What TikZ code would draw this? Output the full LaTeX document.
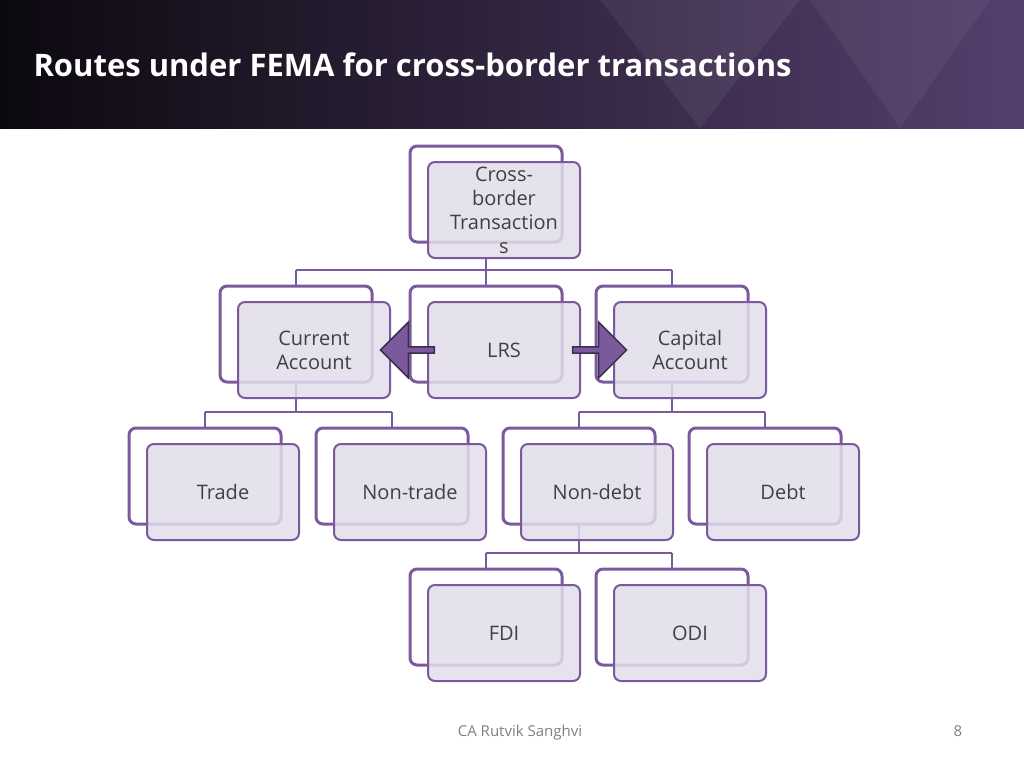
\documentclass[tikz,border=0pt]{standalone}
\usepackage{fontspec}
\setmainfont{Open Sans}
\usetikzlibrary{shapes.arrows}
\definecolor{pb}{HTML}{7A5A9C}
\definecolor{pf}{HTML}{E2DDEB}
\definecolor{tx}{HTML}{404040}
\tikzset{
 back/.style={draw=pb,line width=3pt,fill=white,rounded corners=7pt,minimum width=152pt,minimum height=96pt,inner sep=0},
 front/.style={draw=pb,line width=2pt,fill=pf,fill opacity=0.85,text opacity=1,rounded corners=7pt,minimum width=152pt,minimum height=96pt,text width=140pt,align=center,font=\fontsize{20}{24}\selectfont,text=tx,inner sep=0},
 conn/.style={draw=pb,line width=1.6pt},
 blk/.style={single arrow,draw=pb!50!black,line width=1.5pt,fill=pb,minimum height=54pt,minimum width=56pt,single arrow head extend=6pt,inner sep=0,text width=10pt}
}
\newcommand{\pairbox}[4]{\node[back] (#1b) at (#2-18,#3-16) {};}
\newcommand{\pairfront}[4]{\node[front] (#1) at (#2,#3) {#4};}
\begin{document}
\begin{tikzpicture}[x=1pt,y=-1pt]
\useasboundingbox (0,0) rectangle (1024,768);
\shade[left color=black!90!pb,right color=pb!70!black,shading angle=90] (0,0) rectangle (1024,128);
\fill[white,opacity=0.06] (600,0) -- (700,128) -- (800,0) -- cycle;
\fill[white,opacity=0.05] (810,0) -- (900,128) -- (990,0) -- cycle;
\node[anchor=west,text=white,font=\fontsize{31}{36}\selectfont\bfseries] (title) at (30,65) {Routes under FEMA for cross-border transactions};
\foreach \n/\x/\y/\t in {cb/504/210/{Cross-\\border\\Transaction\\s},ca/314/350/{Current\\Account},lrs/504/350/{LRS},cap/690/350/{Capital\\Account},tr/223/492/{Trade},nt/410/492/{Non-trade},nd/597/492/{Non-debt},db/783/492/{Debt},fdi/504/633/{FDI},odi/690/633/{ODI}}{\pairbox{\n}{\x}{\y}{\t}}
% connectors
\coordinate (cbbot) at (486,258);
\coordinate (j1) at (504,270);
\draw[conn] (cbbot) -- (cbbot|-j1) (cab.north|-j1) -- (capb.north|-j1);
\draw[conn] (cab.north|-j1) -- (cab.north) (lrsb.north|-j1) -- (lrsb.north) (capb.north|-j1) -- (capb.north);
\coordinate (j2) at (300,412);
\draw[conn] (cab.south) -- (cab.south|-j2) (trb.north|-j2) -- (ntb.north|-j2) (trb.north|-j2) -- (trb.north) (ntb.north|-j2) -- (ntb.north);
\draw[conn] (capb.south) -- (capb.south|-j2) (ndb.north|-j2) -- (dbb.north|-j2) (ndb.north|-j2) -- (ndb.north) (dbb.north|-j2) -- (dbb.north);
\coordinate (j3) at (500,553);
\draw[conn] (ndb.south) -- (ndb.south|-j3) (fdib.north|-j3) -- (odib.north|-j3) (fdib.north|-j3) -- (fdib.north) (odib.north|-j3) -- (odib.north);
\foreach \n/\x/\y/\t in {cb/504/210/{Cross-\\border\\Transaction\\s},ca/314/350/{Current\\Account},lrs/504/350/{LRS},cap/690/350/{Capital\\Account},tr/223/492/{Trade},nt/410/492/{Non-trade},nd/597/492/{Non-debt},db/783/492/{Debt},fdi/504/633/{FDI},odi/690/633/{ODI}}{\pairfront{\n}{\x}{\y}{\t}}
\node[blk,shape border rotate=180] (al) at (409,350) {};
\node[blk] (ar) at (598,350) {};
\node[font=\fontsize{15}{18}\selectfont,text=gray] (foot) at (520,733) {CA Rutvik Sanghvi};
\node[font=\fontsize{15}{18}\selectfont,text=gray] (pg) at (958,731) {8};
\end{tikzpicture}
\end{document}
